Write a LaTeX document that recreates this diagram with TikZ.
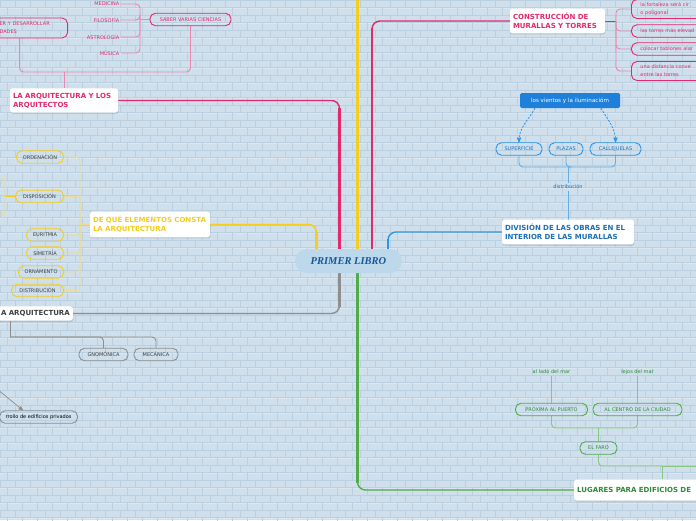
\documentclass[tikz,border=0pt]{standalone}
\usepackage{fontspec}
\setmainfont{DejaVu Sans}
\newfontfamily\titlefont{Liberation Serif}
\usetikzlibrary{calc}
\usetikzlibrary{arrows}
\usetikzlibrary{shadows,backgrounds}

\definecolor{fondo}{HTML}{CFE0EC}
\definecolor{ladrillo}{HTML}{BACFDF}
\definecolor{brillo}{HTML}{DCE8F1}
\definecolor{rosa}{HTML}{E2296E}
\definecolor{rosaclaro}{HTML}{E987AE}
\definecolor{amarillo}{HTML}{F5CD1E}
\definecolor{amarilloclaro}{HTML}{EEDB8E}
\definecolor{gris}{HTML}{8E8E8E}
\definecolor{grisoscuro}{HTML}{3F3F3F}
\definecolor{azul}{HTML}{2B95E6}
\definecolor{azulclaro}{HTML}{63AEE8}
\definecolor{azultexto}{HTML}{1C6FB6}
\definecolor{azulvivo}{HTML}{1F80DA}
\definecolor{verde}{HTML}{50AC4A}
\definecolor{verdeclaro}{HTML}{86C582}
\definecolor{verdetexto}{HTML}{2C8B38}
\definecolor{raizfondo}{HTML}{BDD8EB}
\definecolor{raiztexto}{HTML}{15589A}

\newcommand{\chica}{\fontsize{5}{7.8}\selectfont}

\begin{document}
\begin{tikzpicture}[x=1pt, y=-1pt,
  tema/.style={fill=white, rounded corners=2.5pt, align=left, inner xsep=3pt, inner ysep=4.5pt,
    font=\fontsize{7}{9}\selectfont\bfseries,
    drop shadow={shadow xshift=0.4pt, shadow yshift=-1.2pt, opacity=0.35}},
  pill/.style={draw, rounded corners=5.5pt, line width=0.9pt, inner xsep=3pt, inner ysep=0pt,
    minimum height=12.5pt, font=\chica},
  tag/.style={inner sep=1.5pt, font=\chica},
  raiz/.style={fill=raizfondo, rounded corners=12pt, minimum width=107pt, minimum height=24pt,
    text=raiztexto, font={\titlefont\fontsize{10.5}{12}\selectfont\bfseries\itshape}},
  rama/.style={line width=1.4pt, rounded corners=8pt},
  grueso/.style={line width=2.5pt},
  hilo/.style={line width=0.9pt, rounded corners=4pt}]
\useasboundingbox (0,0) rectangle (696,520);
\clip (0,0) rectangle (696,520);

% central topic
\node[raiz] (primer) at (348.5,261) {PRIMER LIBRO};

% junctions and free ends
\coordinate (arriba) at (357.5,-5);
\coordinate (sj) at (140,19.5);
\coordinate (pj) at (64,72);
\coordinate (yj) at (80,224.5);
\coordinate (dj) at (5,196.5);
\coordinate (dja) at (-5,178);
\coordinate (djb) at (-5,215);
\coordinate (grj) at (10,337);
\coordinate (flecha) at (-3,389);
\coordinate (cj) at (616,21);
\coordinate (bj) at (568,167);
\coordinate (fj) at (598.5,428);
\coordinate (gj) at (662,466);
\coordinate (derecha) at (705,466);
\coordinate (p1) at ($(primer.center)+(-32,0)$);
\coordinate (p2) at ($(primer.center)+(-9,0)$);
\coordinate (p3) at ($(primer.center)+(23.5,0)$);
\coordinate (p4) at ($(primer.center)+(39.5,0)$);
\coordinate (p5) at ($(primer.center)+(9,0)$);

% la arquitectura y los arquitectos
\node[tema, text=rosa, text width=102pt] (arqui) at (64,100.5) {LA ARQUITECTURA Y LOS\\ARQUITECTOS};
\node[pill, draw=rosa, text=rosa, minimum width=81pt] (saber) at (190.5,19.5) {SABER VARIAS CIENCIAS};
\node[pill, draw=rosa, text=rosa, anchor=east, align=left, text width=60pt, inner xsep=8pt, minimum height=20pt] (desarr) at (68,28) {ER Y DESARROLLAR\\DADES};
\foreach \nom/\txt/\y in {med/MEDICINA/4, fil/FILOSOFÍA/20, ast/ASTROLOGÍA/37, mus/MÚSICA/53}
  \node[tag, text=rosa, anchor=east] (\nom) at (121,\y) {\txt};

% de que elementos consta
\node[tema, text=amarillo, text width=114pt] (elem) at (150,224.5) {DE QUÉ ELEMENTOS CONSTA\\LA ARQUITECTURA};
\foreach \nom/\txt/\y/\w in {orden/ORDENACIÓN/157/47, dispo/DISPOSICIÓN/196.5/48, euri/EURITMIA/235/37,
    sime/SIMETRÍA/253/37, orna/ORNAMENTO/272/45, distri/DISTRIBUCIÓN/290.5/52}
  \node[pill, draw=amarillo, text=grisoscuro, anchor=east, minimum width=\w pt] (\nom) at (64,\y) {\txt};

% gris
\node[tema, text=grisoscuro, anchor=east, text width=90pt, align=right, inner ysep=4pt] (arq2) at (73,313.5) {A ARQUITECTURA};
\node[pill, draw=gris, text=grisoscuro, minimum width=49pt] (gnomo) at (103.5,354.5) {GNOMÓNICA};
\node[pill, draw=gris, text=grisoscuro, minimum width=44pt] (meca) at (156,354.5) {MECÁNICA};
\node[pill, draw=gris, text=black, anchor=east, inner xsep=6pt] (privados) at (78,417) {rrollo de edificios privados};

% construccion de murallas
\node[tema, text=rosa, text width=89pt] (constr) at (557.5,21) {CONSTRUCCIÓN DE\\MURALLAS Y TORRES};
\node[pill, draw=rosa, text=rosa, anchor=west, align=left, text width=70pt, inner xsep=9pt, minimum height=19pt] (fort) at (631,9) {la fortaleza será cir\\o poligonal};
\node[pill, draw=rosa, text=rosa, anchor=west, align=left, text width=70pt, inner xsep=9pt] (torres) at (631,31) {las torres más elevad};
\node[pill, draw=rosa, text=rosa, anchor=west, align=left, text width=70pt, inner xsep=9pt] (tablones) at (631,49) {colocar tablones alar};
\node[pill, draw=rosa, text=rosa, anchor=west, align=left, text width=70pt, inner xsep=9pt, minimum height=19pt] (distancia) at (631,71) {una distancia conve\\entre las torres};

% division de las obras
\node[tema, text=azultexto, text width=126pt] (division) at (568,232) {DIVISIÓN DE LAS OBRAS EN EL\\INTERIOR DE LAS MURALLAS};
\node[tag, text=azultexto] (distrib) at (568,187) {distribución};
\node[pill, draw=azul, text=azultexto, minimum width=46pt] (superficie) at (519,149) {SUPERFICIE};
\node[pill, draw=azul, text=azultexto, minimum width=34pt] (plazas) at (566,149) {PLAZAS};
\node[pill, draw=azul, text=azultexto, minimum width=51pt] (calle) at (615.5,149) {CALLEJUELAS};
\node[fill=azulvivo, text=white, rounded corners=1.5pt, minimum width=100pt, minimum height=15pt, inner sep=2pt,
  font=\fontsize{5.6}{6.5}\selectfont] (vientos) at (570,100.5) {los vientos y la iluminacióm};

% lugares
\node[tema, text=verdetexto, anchor=west, text width=140pt, minimum height=21pt, inner ysep=3pt] (lugares) at (574,490) {LUGARES PARA EDIFICIOS DE};
\node[pill, draw=verde, text=verdetexto, minimum width=37pt] (faro) at (598.5,448) {EL FARO};
\node[pill, draw=verde, text=verdetexto, minimum width=72pt] (proxima) at (551.5,409.5) {PRÓXIMA AL PUERTO};
\node[pill, draw=verde, text=verdetexto, minimum width=89pt] (ciudad) at (637.5,409.5) {AL CENTRO DE LA CIUDAD};
\node[tag, text=verdetexto] (ladomar) at (551.5,372) {al lado del mar};
\node[tag, text=verdetexto] (lejos) at (637.5,372) {lejos del mar};

\begin{scope}[on background layer]
% brick wall
\fill[fondo] (0,0) rectangle (696,520);
\foreach \r in {0,...,69} {
  \pgfmathsetmacro\yy{\r*7.5}
  \pgfmathsetmacro\desp{mod(\r,2)*7.5}
  \draw[brillo, line width=0.5pt] (0,\yy+0.7) -- (696,\yy+0.7);
  \draw[ladrillo, line width=0.5pt] (0,\yy) -- (696,\yy)
    \foreach \c in {0,...,47} {(\c*15+\desp,\yy) -- ++(0,7.5)};
}

% main branches
\draw[rama, amarillo] (p1) |- (elem.east);
\draw[grueso, amarillo] (p1) -- ($(p1 |- elem.east)+(0,7)$);
\draw[grueso, amarillo] (arriba |- primer.center) -- (arriba);
\draw[rama, rosa] (p2) |- (arqui.east);
\draw[grueso, rosa] (p2) -- ($(p2 |- arqui.east)+(0,7)$);
\draw[rama, rosa] (p3) |- (constr.west);
\draw[grueso, rosa] (p3) -- ($(p3 |- constr.west)+(0,7)$);
\draw[rama, azul] (p4) |- (division.west);
\draw[grueso, azul] (p4) -- ($(p4 |- division.west)+(0,7)$);
\draw[rama, gris] (p2) |- (arq2.east);
\draw[grueso, gris] (p2) -- ($(p2 |- arq2.east)+(0,-7)$);
\draw[rama, verde] (p5) |- (lugares.west);
\draw[grueso, verde] (p5) -- ($(p5 |- lugares.west)+(0,-7)$);

% pink subtree
\draw[hilo, rosaclaro] (arqui.north) -- (pj);
\draw[hilo, rosaclaro] (saber.south) |- (pj);
\draw[hilo, rosaclaro] ($(desarr.south)+(-10,0)$) |- (pj);
\draw[hilo, rosaclaro] (saber.west) -- (sj);
\foreach \nom in {med,fil,ast,mus}
  \draw[hilo, rosaclaro] (\nom.east) -| (sj);
\draw[hilo, rosa] (constr.east) -- (cj);
\foreach \nom in {fort,torres,tablones,distancia}
  \draw[hilo, rosaclaro] (\nom.west) -| (cj);

% yellow subtree
\foreach \nom in {orden,dispo,euri,sime,orna,distri}
  \draw[hilo, amarilloclaro] (\nom.east) -| (yj);
\draw[hilo, amarilloclaro] (yj) -- (elem.west);
\draw[line width=1.2pt, amarillo] (dispo.west) -- (dj);
\draw[hilo, amarilloclaro] (dja) -| (dj);
\draw[hilo, amarilloclaro] (djb) -| (dj);

% gray subtree
\draw[hilo, gris] (grj |- arq2.south) -- (grj);
\draw[hilo, gris] (gnomo.north) |- (grj);
\draw[hilo, gris] (meca.north) |- (grj);
\draw[gris, line width=0.7pt, ->, >=stealth'] (flecha) -- ($(privados.north east)+(-55,0)$);

% blue subtree
\draw[hilo, azulclaro] (superficie.south) |- (bj);
\draw[hilo, azulclaro] (plazas.south) |- (bj);
\draw[hilo, azulclaro] (calle.south) |- (bj);
\draw[hilo, azulclaro] (bj) -- (distrib.north);
\draw[hilo, azulclaro] (distrib.south) -- (division.north);
\draw[azul, line width=0.8pt, dash pattern=on 2pt off 1.5pt, ->, >=stealth'] ($(vientos.south)+(-35,0)$) to[out=240, in=90] (superficie.north);
\draw[azul, line width=0.8pt, dash pattern=on 2pt off 1.5pt, ->, >=stealth'] ($(vientos.south)+(31,0)$) to[out=-60, in=90] (calle.north);

% green subtree
\draw[hilo, verdeclaro] (gj |- lugares.north) -- (gj);
\draw[hilo, verdeclaro] (faro.south) |- (gj);
\draw[hilo, verdeclaro] (gj) -- (derecha);
\draw[hilo, verdeclaro] (faro.north) -- (fj);
\draw[hilo, verdeclaro] (proxima.south) |- (fj);
\draw[hilo, verdeclaro] (ciudad.south) |- (fj);
\draw[hilo, verdeclaro] (ladomar.south) -- (proxima.north);
\draw[hilo, verdeclaro] (lejos.south) -- (ciudad.north);
\end{scope}
\end{tikzpicture}
\end{document}
